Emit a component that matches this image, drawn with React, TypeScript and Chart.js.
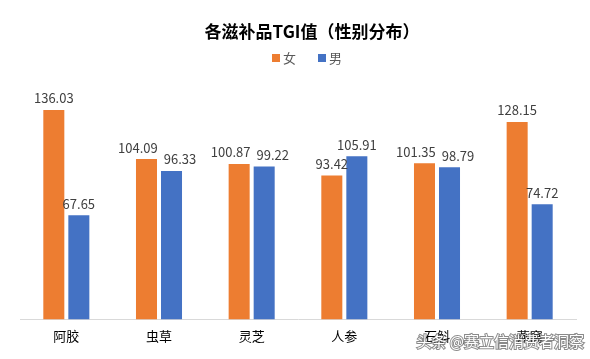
import React, { useEffect, useRef } from "react";
import { Chart, registerables } from "chart.js";

Chart.register(...registerables);

const categories = ["阿胶", "虫草", "灵芝", "人参", "石斛", "燕窝"];
const femaleValues = [136.03, 104.09, 100.87, 93.42, 101.35, 128.15];
const maleValues = [67.65, 96.33, 99.22, 105.91, 98.79, 74.72];
const seriesNames = ["女", "男"];
const titleText = "各滋补品TGI值（性别分布）";
const watermarkText = "头条 @赛立信消费者洞察";

const FONT = "'Noto Sans CJK SC', 'Noto Sans', sans-serif";
const ORANGE = "#ED7D31";
const BLUE = "#4472C4";

export default function App() {
  const ref = useRef<HTMLCanvasElement | null>(null);
  useEffect(() => {
    if (!ref.current) return;
    const overlay = {
      id: "overlay",
      afterDatasetsDraw(chart: any) {
        const ctx = chart.ctx;
        ctx.save();
        ctx.font = `13px ${FONT}`;
        ctx.fillStyle = "#404040";
        ctx.textAlign = "center";
        ctx.textBaseline = "bottom";
        const m0 = chart.getDatasetMeta(0);
        const m1 = chart.getDatasetMeta(1);
        const d0 = chart.data.datasets[0].data as number[];
        const d1 = chart.data.datasets[1].data as number[];
        const gap = 6;
        m0.data.forEach((b0: any, j: number) => {
          const b1: any = m1.data[j];
          const t0 = d0[j].toFixed(2);
          const t1 = d1[j].toFixed(2);
          const w0 = ctx.measureText(t0).width;
          const w1 = ctx.measureText(t1).width;
          let x0 = b0.x;
          let x1 = b1.x;
          const y0 = b0.y - 5;
          const y1 = b1.y - 5;
          if (Math.abs(y0 - y1) < 16) {
            const need = w0 / 2 + w1 / 2 + gap;
            const have = x1 - x0;
            if (have < need) {
              const s = (need - have) / 2;
              x0 -= s;
              x1 += s;
            }
          }
          ctx.fillText(t0, x0, y0);
          ctx.fillText(t1, x1, y1);
        });
        ctx.restore();
      },
      afterDraw(chart: any) {
        const ctx = chart.ctx;
        ctx.save();
        // title
        ctx.font = `bold 17px ${FONT}`;
        ctx.fillStyle = "#000";
        ctx.textAlign = "center";
        ctx.textBaseline = "middle";
        ctx.fillText(titleText, 312, 32);
        // legend
        ctx.font = `13px ${FONT}`;
        ctx.textAlign = "left";
        const items = [
          { label: seriesNames[0], color: ORANGE, x: 272 },
          { label: seriesNames[1], color: BLUE, x: 318 },
        ];
        items.forEach((it) => {
          ctx.fillStyle = it.color;
          ctx.fillRect(it.x, 54, 8, 8);
          ctx.fillStyle = "#595959";
          ctx.fillText(it.label, it.x + 11, 58);
        });
        // watermark
        ctx.font = `15px ${FONT}`;
        ctx.textAlign = "right";
        ctx.lineWidth = 2;
        ctx.strokeStyle = "rgba(60,60,60,0.6)";
        ctx.strokeText(watermarkText, 584, 341);
        ctx.fillStyle = "#ffffff";
        ctx.fillText(watermarkText, 584, 341);
        ctx.restore();
      },
    };
    const chart = new Chart(ref.current, {
      type: "bar",
      data: {
        labels: categories,
        datasets: [
          {
            label: seriesNames[0],
            data: femaleValues,
            backgroundColor: ORANGE,
            barPercentage: 0.84,
            categoryPercentage: 0.54,
          },
          {
            label: seriesNames[1],
            data: maleValues,
            backgroundColor: BLUE,
            barPercentage: 0.84,
            categoryPercentage: 0.54,
          },
        ],
      },
      options: {
        responsive: false,
        animation: false,
        layout: { padding: { left: 20, right: 14, top: 73, bottom: 14 } },
        plugins: {
          legend: { display: false },
          title: { display: false },
          tooltip: { enabled: false },
        },
        scales: {
          x: {
            grid: { display: false },
            border: { color: "#d9d9d9", width: 1 },
            ticks: {
              color: "#000",
              font: { family: FONT, size: 13 },
              padding: 1,
            },
          },
          y: { display: false, min: 0, max: 160 },
        },
      },
      plugins: [overlay],
    });
    return () => chart.destroy();
  }, []);
  return (
    <div style={{ position: "fixed", left: 0, top: 0, width: 590, height: 359, background: "#fff" }}>
      <canvas ref={ref} width={590} height={359} style={{ display: "block" }} />
    </div>
  );
}
